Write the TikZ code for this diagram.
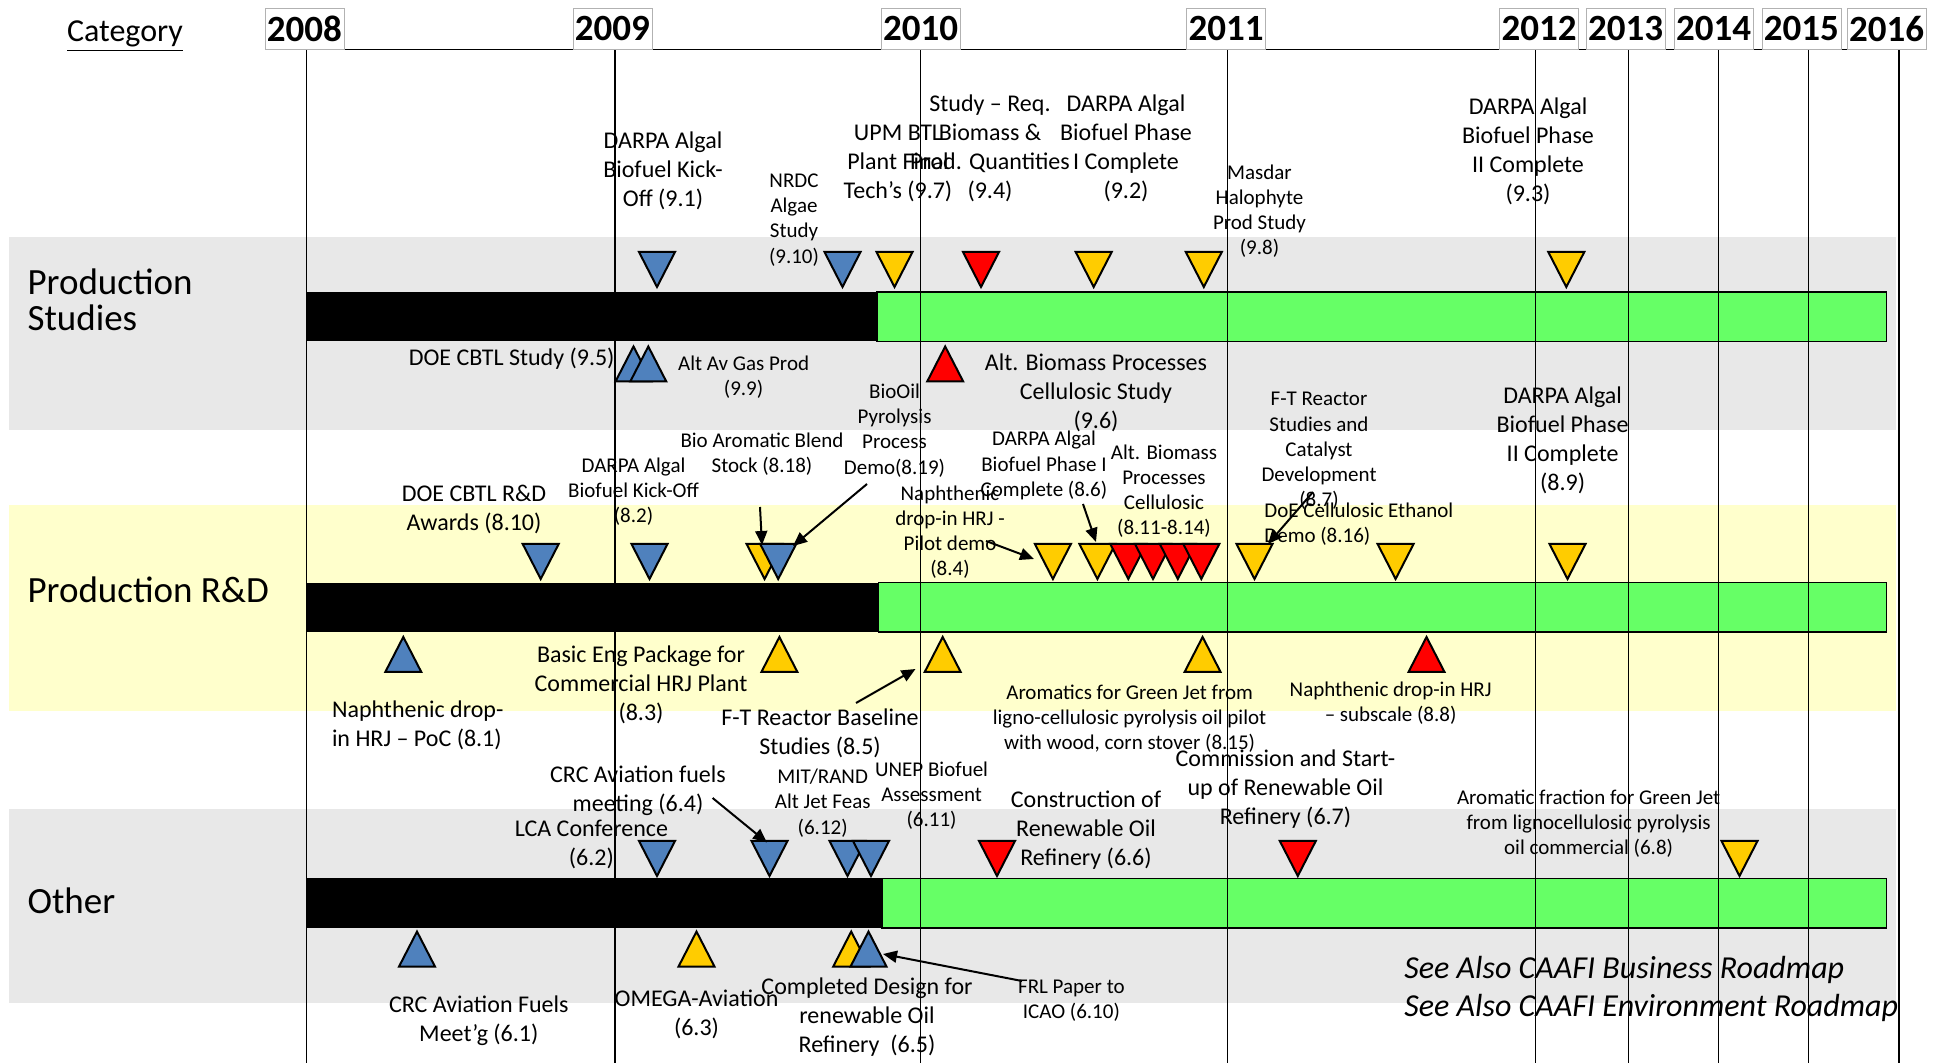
\documentclass[tikz,border=0pt]{standalone}
\usepackage{fontspec}
\setmainfont{Carlito}
\usetikzlibrary{positioning, arrows.meta}
\definecolor{msblue}{HTML}{4F81BD}
\definecolor{msyellow}{HTML}{FFCC00}
\definecolor{msred}{HTML}{FF0000}
\definecolor{msgreen}{HTML}{66FF66}
\definecolor{bandgrey}{HTML}{E8E8E8}
\definecolor{bandyellow}{HTML}{FFFFCC}

\begin{document}
\begin{tikzpicture}[
    x=0.5pt, y=-0.5pt,
    yearbox/.style={draw=black!30, fill=white, minimum width=39.5pt, minimum height=20.5pt,
                    inner sep=0pt, font=\fontsize{18.5}{20}\selectfont\bfseries},
    catlabel/.style={anchor=west, align=left, inner sep=0pt,
                     font=\fontsize{18.5}{18}\selectfont},
    lbl/.style={align=center, inner sep=0pt, font=\fontsize{12}{14.5}\selectfont},
    slbl/.style={align=center, inner sep=0pt, font=\fontsize{10.5}{12.6}\selectfont},
    note/.style={anchor=west, inner sep=0pt, font=\fontsize{16}{19}\selectfont\itshape},
    tri/.style={draw, line width=1pt, line join=miter, fill=#1},
    tri/.default=msblue,
    gridline/.style={line width=0.65pt},
    bar/.style={draw, line width=0.75pt},
    arrow/.style={-{Triangle[length=7pt, width=6pt]}, line width=1pt},
]
\useasboundingbox (0,0) rectangle (1940,1063);

% bands
\fill[bandgrey]   (8.7,237.5) rectangle (1896,430.5);
\fill[bandyellow] (8.7,504.8) rectangle (1896,711.4);
\fill[bandgrey]   (8.7,809)   rectangle (1896,1003.4);

% bars
\fill[black] (306.8,292) rectangle (877.2,341.5);
\draw[bar, fill=msgreen] (877.2,292) rectangle (1886.7,341.5);
\fill[black] (306.8,582.7) rectangle (878.4,632.2);
\draw[bar, fill=msgreen] (878.4,582.7) rectangle (1886.7,632.2);
\fill[black] (306.8,878.4) rectangle (882.1,927.9);
\draw[bar, fill=msgreen] (882.1,878.4) rectangle (1886.7,927.9);

% year grid
\draw[gridline] (306.8,49.5) -- (1899.1,49.5);
\foreach \xx in {306.8, 614.9, 920.5, 1227.3, 1535.4, 1628.2, 1718.5, 1808.8, 1899.1}
    \draw[gridline] (\xx,49.5) -- (\xx,1063);
\foreach \yr/\xx in {2008/304.4, 2009/612.4, 2010/920.5, 2011/1226.1, 2012/1539,
                     2013/1625.7, 2014/1713.5, 2015/1801.4, 2016/1886.7}
    \node[yearbox] (y\yr) at (\xx,29) {\yr};

\node[inner sep=0pt, font=\fontsize{16}{19}\selectfont] (cat) at (125,36) {\underline{Category}};

% category labels
\node[catlabel] (cps) at (27.2,300) {Production\\Studies};
\node[catlabel] (crd) at (27.2,590) {Production R\&D};
\node[catlabel] (cot) at (27.2,900.7) {Other};

% Production Studies milestones
\foreach \xx/\cc in {657/msblue, 842.5/msblue, 894.5/msyellow, 981/msred,
                     1093.7/msyellow, 1203.8/msyellow, 1566.3/msyellow}
    \draw[tri=\cc] (\xx,287) -- ++(-18,-35) -- ++(36,0) -- cycle;
\foreach \xx/\cc in {633.5/msblue, 648.3/msblue, 945.2/msred}
    \draw[tri=\cc] (\xx,346.5) -- ++(-18,35) -- ++(36,0) -- cycle;

% Production R&D milestones
\foreach \xx/\cc in {540.7/msblue, 649.5/msblue, 764.6/msyellow, 778.2/msblue,
                     1052.9/msyellow, 1097.4/msyellow, 1128.3/msred, 1153/msred,
                     1177.8/msred, 1201.3/msred, 1254.5/msyellow, 1395.6/msyellow,
                     1567.5/msyellow}
    \draw[tri=\cc] (\xx,579) -- ++(-18,-35) -- ++(36,0) -- cycle;
\foreach \xx/\cc in {403.3/msblue, 779.4/msyellow, 942.7/msyellow, 1202.6/msyellow,
                     1426.5/msred}
    \draw[tri=\cc] (\xx,637) -- ++(-18,35) -- ++(36,0) -- cycle;

% Other milestones
\foreach \xx/\cc in {657/msblue, 769.5/msblue, 847.5/msblue, 871/msblue, 997/msred,
                     1297.8/msred, 1739.5/msyellow}
    \draw[tri=\cc] (\xx,876) -- ++(-18,-35) -- ++(36,0) -- cycle;
\foreach \xx/\cc in {417/msblue, 696.5/msyellow, 851.2/msyellow, 868.5/msblue}
    \draw[tri=\cc] (\xx,931.6) -- ++(-18,35) -- ++(36,0) -- cycle;

% Production Studies labels
\node[lbl]  (l91)  at (663,171)    {DARPA Algal\\Biofuel Kick-\\Off (9.1)};
\node[slbl] (l910) at (794,220)    {NRDC\\Algae\\Study\\(9.10)};
\node[lbl]  (l97)  at (898,163)    {UPM BTL\\Plant Final\\Tech’s (9.7)};
\node[lbl]  (l94)  at (990,148)    {Study – Req.\\Biomass \&\\Prod. Quantities\\(9.4)};
\node[lbl]  (l92)  at (1126,148)   {DARPA Algal\\Biofuel Phase\\I Complete\\(9.2)};
\node[slbl] (l98)  at (1259.5,211) {Masdar\\Halophyte\\Prod Study\\(9.8)};
\node[lbl]  (l93)  at (1528,151)   {DARPA Algal\\Biofuel Phase\\II Complete\\(9.3)};
\node[lbl, anchor=east] (l95) at (615,359) {DOE CBTL Study (9.5)};
\node[slbl] (l99)  at (743.6,377)  {Alt Av Gas Prod\\(9.9)};
\node[lbl]  (l96)  at (1096,392.5) {Alt. Biomass Processes\\Cellulosic Study\\(9.6)};

% Production R&D labels
\node[lbl]  (l810) at (474,509)    {DOE CBTL R\&D\\Awards (8.10)};
\node[slbl] (l82)  at (633.5,491.5) {DARPA Algal\\Biofuel Kick-Off\\(8.2)};
\node[slbl] (l818) at (762,454)    {Bio Aromatic Blend\\Stock (8.18)};
\node[slbl] (l819) at (894.5,430.5) {BioOil\\Pyrolysis\\Process\\Demo(8.19)};
\node[slbl] (l84)  at (950,532)    {Naphthenic\\drop-in HRJ -\\Pilot demo\\(8.4)};
\node[slbl] (l86)  at (1044,465.5) {DARPA Algal\\Biofuel Phase I\\Complete (8.6)};
\node[slbl] (l811) at (1164,491)   {Alt. Biomass\\Processes\\Cellulosic\\(8.11-8.14)};
\node[slbl] (l87)  at (1319,451)   {F-T Reactor\\Studies and\\Catalyst\\Development\\(8.7)};
\node[slbl, anchor=west, align=left] (l816) at (1264,524.5) {DoE Cellulosic Ethanol\\Demo (8.16)};
\node[lbl]  (l89)  at (1562.6,440.5) {DARPA Algal\\Biofuel Phase\\II Complete\\(8.9)};
\node[lbl, anchor=west, align=left] (l81) at (331.6,725.5) {Naphthenic drop-\\in HRJ – PoC (8.1)};
\node[lbl]  (l83)  at (641,684.5)  {Basic Eng Package for\\Commercial HRJ Plant\\(8.3)};
\node[lbl]  (l85)  at (820,733)    {F-T Reactor Baseline\\Studies (8.5)};
\node[slbl] (l815) at (1129.6,718.5) {Aromatics for Green Jet from\\ligno-cellulosic pyrolysis oil pilot\\with wood, corn stover (8.15)};
\node[slbl] (l88)  at (1390.6,703) {Naphthenic drop-in HRJ\\– subscale (8.8)};

% Other labels
\node[lbl]  (l64)  at (638,791)    {CRC Aviation fuels\\meeting (6.4)};
\node[lbl]  (l62)  at (591.4,844.3) {LCA Conference\\(6.2)};
\node[slbl] (l612) at (822.7,803)  {MIT/RAND\\Alt Jet Feas\\(6.12)};
\node[slbl] (l611) at (931.6,795.5) {UNEP Biofuel\\Assessment\\(6.11)};
\node[lbl]  (l66)  at (1086,830)   {Construction of\\Renewable Oil\\Refinery (6.6)};
\node[lbl]  (l67)  at (1285.5,789.5) {Commission and Start-\\up of Renewable Oil\\Refinery (6.7)};
\node[slbl] (l68)  at (1588.6,823.5) {Aromatic fraction for Green Jet\\from lignocellulosic pyrolysis\\oil commercial\ (6.8)};
\node[lbl]  (l61)  at (478.8,1021) {CRC Aviation Fuels\\Meet’g (6.1)};
\node[lbl]  (l63)  at (696.5,1014) {OMEGA-Aviation\\(6.3)};
\node[lbl]  (l65)  at (867,1017)   {Completed Design for\\renewable Oil\\Refinery\ \ (6.5)};
\node[slbl] (l610) at (1071.4,1001) {FRL Paper to\\ICAO (6.10)};

\node[note] (see1) at (1404,970)  {See Also CAAFI Business Roadmap};
\node[note] (see2) at (1404,1008) {See Also CAAFI Environment Roadmap};

% arrows to milestones
\coordinate (s818) at (760,507);   \coordinate (t818) at (762,545);
\coordinate (s819) at (867,484);   \coordinate (t819) at (793,546);
\coordinate (s84)  at (986,541);   \coordinate (t84)  at (1034,559);
\coordinate (s86)  at (1083,504);  \coordinate (t86)  at (1096,542);
\coordinate (s87)  at (1313,492);  \coordinate (t87)  at (1268,544);
\coordinate (s85)  at (856,703);   \coordinate (t85)  at (915.5,669);
\coordinate (s64)  at (712.6,798); \coordinate (t64)  at (767,842.5);
\coordinate (s610) at (1022,981);  \coordinate (t610) at (883,954);
\foreach \a in {818, 819, 84, 86, 87, 85, 64, 610}
    \draw[arrow] (s\a) -- (t\a);

\end{tikzpicture}
\end{document}
